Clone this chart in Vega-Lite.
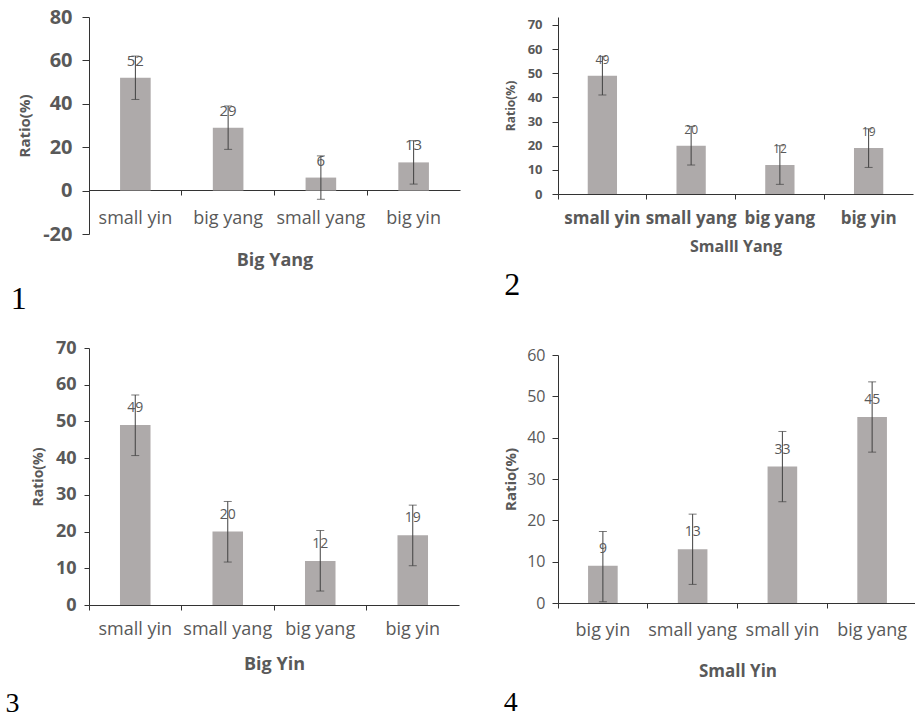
{
  "$schema": "https://vega.github.io/schema/vega-lite/v6.json",
  "background": "white",
  "padding": {"left": 5, "top": 7, "right": 0, "bottom": 0},
  "data": {"values": [
    {"panel": 1, "cat": "small yin", "value": 52, "lo": 42, "hi": 62},
    {"panel": 1, "cat": "big yang", "value": 29, "lo": 19, "hi": 39},
    {"panel": 1, "cat": "small yang", "value": 6, "lo": -4, "hi": 16},
    {"panel": 1, "cat": "big yin", "value": 13, "lo": 3, "hi": 23},
    {"panel": 2, "cat": "small yin", "value": 49, "lo": 41, "hi": 57},
    {"panel": 2, "cat": "small yang", "value": 20, "lo": 12, "hi": 28},
    {"panel": 2, "cat": "big yang", "value": 12, "lo": 4, "hi": 20},
    {"panel": 2, "cat": "big yin", "value": 19, "lo": 11, "hi": 27},
    {"panel": 3, "cat": "small yin", "value": 49, "lo": 40.7, "hi": 57.2},
    {"panel": 3, "cat": "small yang", "value": 20, "lo": 11.7, "hi": 28.2},
    {"panel": 3, "cat": "big yang", "value": 12, "lo": 3.8, "hi": 20.3},
    {"panel": 3, "cat": "big yin", "value": 19, "lo": 10.7, "hi": 27.2},
    {"panel": 4, "cat": "big yin", "value": 9, "lo": 0.3, "hi": 17.3},
    {"panel": 4, "cat": "small yang", "value": 13, "lo": 4.5, "hi": 21.5},
    {"panel": 4, "cat": "small yin", "value": 33, "lo": 24.5, "hi": 41.5},
    {"panel": 4, "cat": "big yang", "value": 45, "lo": 36.5, "hi": 53.5}
  ]},
  "config": {
    "view": {"stroke": null},
    "axis": {"grid": false, "labelOverlap": false, "domainColor": "#333333", "tickColor": "#333333", "labelColor": "#595959", "titleColor": "#595959", "labelFont": "Open Sans", "titleFont": "Open Sans", "titleFontWeight": "bold"}
  },
  "columns": 2,
  "align": "none",
  "spacing": 43,
  "concat": [
    {
      "spacing": 24,
      "vconcat": [
        {
          "width": 371, "height": 217,
          "title": {"text": "1", "orient": "bottom", "anchor": "start", "frame": "bounds", "font": "Liberation Serif", "fontSize": 32, "fontWeight": "normal", "color": "#000000", "offset": 15, "dx": -7},
          "transform": [{"filter": "datum.panel == 1"}],
          "encoding": {
            "x": {"field": "cat", "type": "nominal", "sort": null, "scale": {"paddingInner": 0, "paddingOuter": 0},
              "axis": {"title": "Big Yang", "offset": -44, "bandPosition": 0, "labelAngle": 0, "labelFontSize": 18, "labelPadding": 14, "tickSize": 5, "titleFontSize": 18, "titlePadding": 24}}
          },
          "layer": [
            {"mark": {"type": "bar", "color": "#AEAAAA", "width": {"band": 0.33}},
             "encoding": {"y": {"field": "value", "type": "quantitative", "scale": {"domain": [-20, 80], "nice": false},
               "axis": {"title": "Ratio(%)", "values": [-20, 0, 20, 40, 60, 80], "labelOverlap": false, "labelExpr": "datum.value < 0 ? '-' + abs(datum.value) : datum.label", "labelFontSize": 20, "labelFontWeight": "bold", "labelPadding": 10, "tickSize": 7, "titleFontSize": 15, "titlePadding": 10}}}},
            {"mark": {"type": "rule", "color": "#404040"},
             "encoding": {"y": {"field": "lo", "type": "quantitative",
               "axis": {"title": "Ratio(%)", "values": [-20, 0, 20, 40, 60, 80], "labelOverlap": false, "labelExpr": "datum.value < 0 ? '-' + abs(datum.value) : datum.label", "labelFontSize": 20, "labelFontWeight": "bold", "labelPadding": 10, "tickSize": 7, "titleFontSize": 15, "titlePadding": 10}}, "y2": {"field": "hi"}}},
            {"mark": {"type": "tick", "color": "#404040", "size": 8, "thickness": 1},
             "encoding": {"y": {"field": "lo", "type": "quantitative",
               "axis": {"title": "Ratio(%)", "values": [-20, 0, 20, 40, 60, 80], "labelOverlap": false, "labelExpr": "datum.value < 0 ? '-' + abs(datum.value) : datum.label", "labelFontSize": 20, "labelFontWeight": "bold", "labelPadding": 10, "tickSize": 7, "titleFontSize": 15, "titlePadding": 10}}}},
            {"mark": {"type": "tick", "color": "#404040", "size": 8, "thickness": 1},
             "encoding": {"y": {"field": "hi", "type": "quantitative",
               "axis": {"title": "Ratio(%)", "values": [-20, 0, 20, 40, 60, 80], "labelOverlap": false, "labelExpr": "datum.value < 0 ? '-' + abs(datum.value) : datum.label", "labelFontSize": 20, "labelFontWeight": "bold", "labelPadding": 10, "tickSize": 7, "titleFontSize": 15, "titlePadding": 10}}}},
            {"mark": {"type": "text", "dy": -17, "font": "Open Sans", "fontSize": 15, "color": "#595959"},
             "encoding": {"y": {"field": "value", "type": "quantitative",
               "axis": {"title": "Ratio(%)", "values": [-20, 0, 20, 40, 60, 80], "labelOverlap": false, "labelExpr": "datum.value < 0 ? '-' + abs(datum.value) : datum.label", "labelFontSize": 20, "labelFontWeight": "bold", "labelPadding": 10, "tickSize": 7, "titleFontSize": 15, "titlePadding": 10}}, "text": {"field": "value", "type": "quantitative"}}}
          ]
        },
        {
          "width": 370, "height": 257,
          "title": {"text": "3", "orient": "bottom", "anchor": "start", "frame": "bounds", "font": "Liberation Serif", "fontSize": 28, "fontWeight": "normal", "color": "#000000", "offset": 17, "dx": -26},
          "transform": [{"filter": "datum.panel == 3"}],
          "encoding": {
            "x": {"field": "cat", "type": "nominal", "sort": null, "scale": {"paddingInner": 0, "paddingOuter": 0},
              "axis": {"title": "Big Yin", "bandPosition": 0, "labelAngle": 0, "labelFontSize": 18, "labelPadding": 10, "tickSize": 5, "titleFontSize": 18, "titlePadding": 17}}
          },
          "layer": [
            {"mark": {"type": "bar", "color": "#AEAAAA", "width": {"band": 0.33}},
             "encoding": {"y": {"field": "value", "type": "quantitative", "scale": {"domain": [0, 70], "nice": false},
               "axis": {"title": "Ratio(%)", "values": [0, 10, 20, 30, 40, 50, 60, 70], "labelOverlap": false, "labelFontSize": 18, "labelFontWeight": "bold", "labelPadding": 8, "tickSize": 5, "titleFontSize": 14, "titlePadding": 10}}}},
            {"mark": {"type": "rule", "color": "#404040"},
             "encoding": {"y": {"field": "lo", "type": "quantitative",
               "axis": {"title": "Ratio(%)", "values": [0, 10, 20, 30, 40, 50, 60, 70], "labelOverlap": false, "labelFontSize": 18, "labelFontWeight": "bold", "labelPadding": 8, "tickSize": 5, "titleFontSize": 14, "titlePadding": 10}}, "y2": {"field": "hi"}}},
            {"mark": {"type": "tick", "color": "#404040", "size": 8, "thickness": 1},
             "encoding": {"y": {"field": "lo", "type": "quantitative",
               "axis": {"title": "Ratio(%)", "values": [0, 10, 20, 30, 40, 50, 60, 70], "labelOverlap": false, "labelFontSize": 18, "labelFontWeight": "bold", "labelPadding": 8, "tickSize": 5, "titleFontSize": 14, "titlePadding": 10}}}},
            {"mark": {"type": "tick", "color": "#404040", "size": 8, "thickness": 1},
             "encoding": {"y": {"field": "hi", "type": "quantitative",
               "axis": {"title": "Ratio(%)", "values": [0, 10, 20, 30, 40, 50, 60, 70], "labelOverlap": false, "labelFontSize": 18, "labelFontWeight": "bold", "labelPadding": 8, "tickSize": 5, "titleFontSize": 14, "titlePadding": 10}}}},
            {"mark": {"type": "text", "dy": -17, "font": "Open Sans", "fontSize": 14, "color": "#595959"},
             "encoding": {"y": {"field": "value", "type": "quantitative",
               "axis": {"title": "Ratio(%)", "values": [0, 10, 20, 30, 40, 50, 60, 70], "labelOverlap": false, "labelFontSize": 18, "labelFontWeight": "bold", "labelPadding": 8, "tickSize": 5, "titleFontSize": 14, "titlePadding": 10}}, "text": {"field": "value", "type": "quantitative"}}}
          ]
        }
      ]
    },
    {
      "spacing": 46,
      "vconcat": [
        {
          "width": 355, "height": 177,
          "title": {"text": "2", "orient": "bottom", "anchor": "start", "frame": "bounds", "font": "Liberation Serif", "fontSize": 32, "fontWeight": "normal", "color": "#000000", "offset": 16},
          "transform": [{"filter": "datum.panel == 2"}],
          "encoding": {
            "x": {"field": "cat", "type": "nominal", "sort": null, "scale": {"paddingInner": 0, "paddingOuter": 0},
              "axis": {"title": "Smalll Yang", "bandPosition": 0, "labelAngle": 0, "labelFontSize": 17, "labelFontWeight": "bold", "labelPadding": 11, "tickSize": 5, "titleFontSize": 16, "titlePadding": 12}}
          },
          "layer": [
            {"mark": {"type": "bar", "color": "#AEAAAA", "width": {"band": 0.33}},
             "encoding": {"y": {"field": "value", "type": "quantitative", "scale": {"domain": [0, 73.3], "nice": false},
               "axis": {"title": "Ratio(%)", "values": [0, 10, 20, 30, 40, 50, 60, 70], "labelOverlap": false, "labelFontSize": 13, "labelFontWeight": "bold", "labelPadding": 10, "tickSize": 6, "titleFontSize": 12, "titlePadding": 10}}}},
            {"mark": {"type": "rule", "color": "#404040"},
             "encoding": {"y": {"field": "lo", "type": "quantitative",
               "axis": {"title": "Ratio(%)", "values": [0, 10, 20, 30, 40, 50, 60, 70], "labelOverlap": false, "labelFontSize": 13, "labelFontWeight": "bold", "labelPadding": 10, "tickSize": 6, "titleFontSize": 12, "titlePadding": 10}}, "y2": {"field": "hi"}}},
            {"mark": {"type": "tick", "color": "#404040", "size": 8, "thickness": 1},
             "encoding": {"y": {"field": "lo", "type": "quantitative",
               "axis": {"title": "Ratio(%)", "values": [0, 10, 20, 30, 40, 50, 60, 70], "labelOverlap": false, "labelFontSize": 13, "labelFontWeight": "bold", "labelPadding": 10, "tickSize": 6, "titleFontSize": 12, "titlePadding": 10}}}},
            {"mark": {"type": "tick", "color": "#404040", "size": 8, "thickness": 1},
             "encoding": {"y": {"field": "hi", "type": "quantitative",
               "axis": {"title": "Ratio(%)", "values": [0, 10, 20, 30, 40, 50, 60, 70], "labelOverlap": false, "labelFontSize": 13, "labelFontWeight": "bold", "labelPadding": 10, "tickSize": 6, "titleFontSize": 12, "titlePadding": 10}}}},
            {"mark": {"type": "text", "dy": -16, "font": "Open Sans", "fontSize": 12, "color": "#595959"},
             "encoding": {"y": {"field": "value", "type": "quantitative",
               "axis": {"title": "Ratio(%)", "values": [0, 10, 20, 30, 40, 50, 60, 70], "labelOverlap": false, "labelFontSize": 13, "labelFontWeight": "bold", "labelPadding": 10, "tickSize": 6, "titleFontSize": 12, "titlePadding": 10}}, "text": {"field": "value", "type": "quantitative"}}}
          ]
        },
        {
          "width": 359, "height": 248,
          "title": {"text": "4", "orient": "bottom", "anchor": "start", "frame": "bounds", "font": "Liberation Serif", "fontSize": 28, "fontWeight": "normal", "color": "#000000", "offset": 10},
          "transform": [{"filter": "datum.panel == 4"}],
          "encoding": {
            "x": {"field": "cat", "type": "nominal", "sort": null, "scale": {"paddingInner": 0, "paddingOuter": 0},
              "axis": {"title": "Small Yin", "bandPosition": 0, "labelAngle": 0, "labelFontSize": 18, "labelPadding": 13, "tickSize": 5, "titleFontSize": 17, "titlePadding": 24}}
          },
          "layer": [
            {"mark": {"type": "bar", "color": "#AEAAAA", "width": {"band": 0.33}},
             "encoding": {"y": {"field": "value", "type": "quantitative", "scale": {"domain": [0, 60], "nice": false},
               "axis": {"title": "Ratio(%)", "values": [0, 10, 20, 30, 40, 50, 60], "labelOverlap": false, "labelFontSize": 16, "labelPadding": 7, "tickSize": 6, "titleFontSize": 15, "titlePadding": 8}}}},
            {"mark": {"type": "rule", "color": "#404040"},
             "encoding": {"y": {"field": "lo", "type": "quantitative",
               "axis": {"title": "Ratio(%)", "values": [0, 10, 20, 30, 40, 50, 60], "labelOverlap": false, "labelFontSize": 16, "labelPadding": 7, "tickSize": 6, "titleFontSize": 15, "titlePadding": 8}}, "y2": {"field": "hi"}}},
            {"mark": {"type": "tick", "color": "#404040", "size": 8, "thickness": 1},
             "encoding": {"y": {"field": "lo", "type": "quantitative",
               "axis": {"title": "Ratio(%)", "values": [0, 10, 20, 30, 40, 50, 60], "labelOverlap": false, "labelFontSize": 16, "labelPadding": 7, "tickSize": 6, "titleFontSize": 15, "titlePadding": 8}}}},
            {"mark": {"type": "tick", "color": "#404040", "size": 8, "thickness": 1},
             "encoding": {"y": {"field": "hi", "type": "quantitative",
               "axis": {"title": "Ratio(%)", "values": [0, 10, 20, 30, 40, 50, 60], "labelOverlap": false, "labelFontSize": 16, "labelPadding": 7, "tickSize": 6, "titleFontSize": 15, "titlePadding": 8}}}},
            {"mark": {"type": "text", "dy": -17, "font": "Open Sans", "fontSize": 14, "color": "#595959"},
             "encoding": {"y": {"field": "value", "type": "quantitative",
               "axis": {"title": "Ratio(%)", "values": [0, 10, 20, 30, 40, 50, 60], "labelOverlap": false, "labelFontSize": 16, "labelPadding": 7, "tickSize": 6, "titleFontSize": 15, "titlePadding": 8}}, "text": {"field": "value", "type": "quantitative"}}}
          ]
        }
      ]
    }
  ]
}
